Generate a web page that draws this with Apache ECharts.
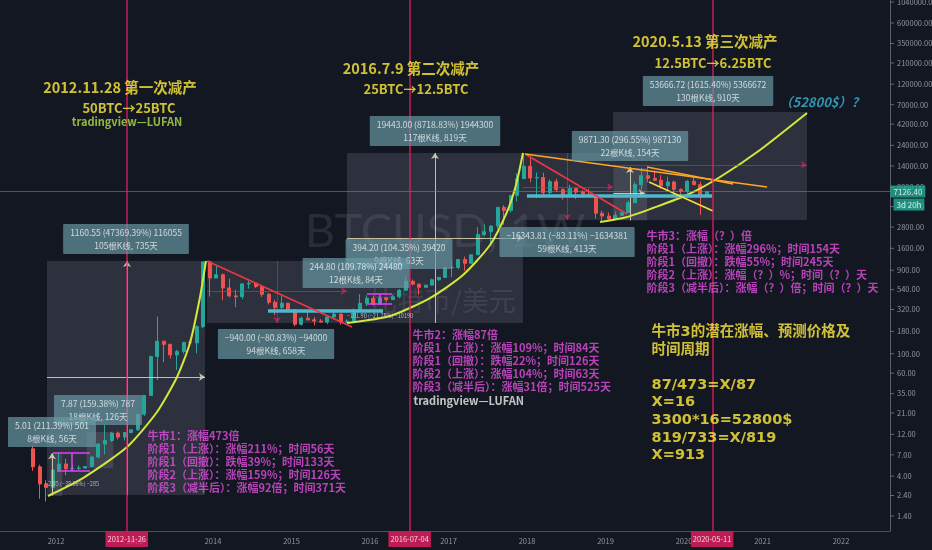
<!DOCTYPE html>
<html><head><meta charset="utf-8">
<script src="https://cdn.jsdelivr.net/npm/echarts@6/dist/echarts.min.js"></script>
<style>html,body{margin:0;padding:0;background:#131722;}#c{width:932px;height:550px;}</style>
</head><body><div id="c"></div>
<script>
// ---------- DATA ----------
// monthly candles: month, open, high, low, close
const candles = [
['2011-09',8.2,8.9,4.6,5.1],['2011-10',5.1,5.4,2.2,3.25],['2011-11',3.25,3.6,2.05,2.97],['2011-12',2.97,4.8,2.8,4.7],
['2012-01',4.7,7.38,4.5,5.5],['2012-02',5.5,6.3,4.1,4.86],['2012-03',4.86,5.4,4.6,4.9],['2012-04',4.9,5.3,4.7,4.95],
['2012-05',4.95,5.2,4.85,5.15],['2012-06',5.15,6.8,5.1,6.6],['2012-07',6.6,9.5,6.4,9.3],['2012-08',9.3,15.4,7.1,10.2],
['2012-09',10.2,12.8,9.8,12.4],['2012-10',12.4,12.9,10.5,11.2],['2012-11',11.2,12.8,10.2,12.6],['2012-12',12.6,13.7,12.3,13.5],
['2013-01',13.5,20.6,13.2,20.4],['2013-02',20.4,33.6,19.5,33.4],['2013-03',33.4,95,33,93],['2013-04',93,266,50,139],
['2013-05',139,140,80,128],['2013-06',128,130,88,97],['2013-07',97,111,65,106],['2013-08',106,135,100,135],
['2013-09',135,142,120,133],['2013-10',133,212,101,204],['2013-11',204,1130,196,1120],['2013-12',1120,1163,450,732],
['2014-01',732,1000,730,800],['2014-02',800,825,410,565],['2014-03',565,720,440,458],['2014-04',458,540,340,448],
['2014-05',448,633,420,628],['2014-06',628,680,555,640],['2014-07',640,645,565,587],['2014-08',587,600,445,478],
['2014-09',478,495,365,387],['2014-10',387,415,275,338],['2014-11',338,455,320,378],['2014-12',378,383,300,318],
['2015-01',318,320,205,217],['2015-02',217,265,210,254],['2015-03',254,300,240,244],['2015-04',244,262,211,236],
['2015-05',236,249,228,230],['2015-06',230,268,218,263],['2015-07',263,318,253,284],['2015-08',284,286,215,230],
['2015-09',230,246,225,236],['2015-10',236,330,236,314],['2015-11',314,480,310,377],['2015-12',377,466,350,430],
['2016-01',430,462,355,368],['2016-02',368,443,366,436],['2016-03',436,440,392,416],['2016-04',416,468,412,448],
['2016-05',448,550,435,531],['2016-06',531,765,525,673],['2016-07',673,704,605,624],['2016-08',624,630,470,574],
['2016-09',574,612,570,608],['2016-10',608,720,604,701],['2016-11',701,755,680,745],['2016-12',745,975,740,963],
['2017-01',963,1150,750,965],['2017-02',965,1200,920,1190],['2017-03',1190,1290,890,1080],['2017-04',1080,1350,1070,1350],
['2017-05',1350,2790,1350,2300],['2017-06',2300,3000,2200,2480],['2017-07',2480,2920,1830,2875],['2017-08',2875,4760,2670,4700],
['2017-09',4700,4980,2970,4340],['2017-10',4340,6470,4110,6440],['2017-11',6440,11500,5500,10000],['2017-12',10000,19666,10700,13860],
['2018-01',13860,17200,9100,10200],['2018-02',10200,11800,6000,10300],['2018-03',10300,11700,6600,6930],['2018-04',6930,9750,6430,9240],
['2018-05',9240,9990,7040,7500],['2018-06',7500,7780,5780,6390],['2018-07',6390,8500,6070,7730],['2018-08',7730,7760,5880,7020],
['2018-09',7020,7400,6100,6630],['2018-10',6630,7680,6200,6300],['2018-11',6300,6600,3500,4020],['2018-12',4020,4320,3220,3740],
['2019-01',3740,4100,3400,3460],['2019-02',3460,4200,3400,3820],['2019-03',3820,4130,3750,4100],['2019-04',4100,5640,4080,5320],
['2019-05',5320,9100,5320,8560],['2019-06',8560,13300,7500,10820],['2019-07',10820,13200,9100,10080],['2019-08',10080,12350,9370,9590],
['2019-09',9590,10950,7710,8290],['2019-10',8290,10500,7300,9150],['2019-11',9150,9500,6520,7540],['2019-12',7540,7750,6430,7190],
['2020-01',7190,9580,6860,9350],['2020-02',9350,10500,8450,8540],['2020-03',8540,9190,3860,6410],['2020-04',6410,7200,6150,7126.4]
];
const yTicks = [1.4,2.4,4,7,12,21,35,60,100,180,320,540,900,1600,2800,4800,8000,14000,24000,42000,70000,120000,210000,350000,600000,1040000];
const yearTicks = [2012,2013,2014,2015,2016,2017,2018,2019,2020,2021,2022];
const halvingDates = ['2012-11-26','2016-07-04','2020-05-11'];
const lastPrice = 7126.4;
const lastPriceText = '7126.40';
const countdown = '3d 20h';

// measured ranges: [year1, price1, year2, price2]
const boxes = [
  [2011.886,2.43,2013.898,1150],[2013.924,224,2015.707,1150],[2015.707,224,2017.949,19640],
  [2017.949,3370,2019.096,19640],[2019.096,3370,2021.567,57800],
  [2012.39,4.93,2012.73,12.8],[2011.93,2.37,2012.08,7.38],[2019.10,3330,2019.53,13200]
];
// growth curves [year, price]
const curve1 = [[2011.898,2.37],[2012.344,3.80],[2012.905,8.6],[2013.287,21.6],[2013.542,54.2],[2013.707,132.6],[2013.835,445],[2013.911,1147]];
const curve2 = [[2015.707,224],[2016.255,270],[2016.765,433],[2017.185,793],[2017.529,1746],[2017.745,4161],[2017.860,8466],[2017.949,19640]];
const curve3 = [[2018.930,3199],[2019.274,3649],[2019.605,4624],[2020.038,6507],[2020.459,10450],[2020.968,21270],[2021.567,56250]];
// straight drawings [[year, price],[year, price]]
const redTrend = [[[2013.924,1147],[2015.771,202]],[[2017.975,19140],[2019.274,3948]]];
const orangeTrend = [[[2017.975,19140],[2021.058,8030]],[[2019.529,13590],[2020.625,8690]]];
const yellowTrend = [[[2019.555,9160],[2020.370,4272]]];
const supportLevels = [[[2014.701,308],[2016.166,308]],[[2017.999,6340],[2020.357,6340]]];
const pinkGuides = [
  [[2013.924,521],[2015.707,521]],[[2014.816,1147],[2014.816,224]],
  [[2017.949,8030],[2019.096,8030]],[[2018.51,19640],[2018.51,3370]],
  [[2019.096,14300],[2021.567,14300]]
];
const creamGuides = [
  [[2011.886,54.2],[2013.898,54.2]],[[2012.905,2.43],[2012.905,1147]],
  [[2015.707,2100],[2017.949,2100]],[[2016.828,224],[2016.828,19640]],
  [[2019.312,3330],[2019.312,13590]],[[2019.10,6857],[2019.50,6857]],
  [[2011.95,2.4],[2011.95,7.3]]
];
const magentaGuides = [
  [[2011.962,7.34],[2012.433,7.34]],[[2012.013,4.58],[2012.433,4.58]],[[2012.204,4.58],[2012.204,7.34]],
  [[2015.962,481],[2016.281,481]],[[2015.962,370],[2016.281,370]],[[2016.127,370],[2016.127,481]]
];
// measurement labels [year, price, text]
const measureLabels = [
  [2012.892,2045,'1160.55 (47369.39%) 116055\n105根K线, 735天'],
  [2012.535,22.8,'7.87 (159.38%) 787\n18根K线, 126天'],
  [2011.949,12.8,'5.01 (211.39%) 501\n8根K线, 56天'],
  [2014.803,129,'−940.00 (−80.83%) −94000\n94根K线, 658天'],
  [2016.370,1378,'394.20 (104.35%) 39420\n9根K线, 63天'],
  [2015.822,836,'244.80 (109.78%) 24480\n12根K线, 84天'],
  [2016.828,35040,'19443.00 (8718.83%) 1944300\n117根K线, 819天'],
  [2018.510,1890,'−16343.81 (−83.11%) −1634381\n59根K线, 413天'],
  [2019.312,23620,'9871.30 (296.55%) 987130\n22根K线, 154天'],
  [2020.306,100400,'53666.72 (1615.40%) 5366672\n130根K线, 910天']
];
const tinyLabels = [[2012.204,3.25,'−2.85 (−38.56%) −285'],[2016.127,270,'−101.90 (−21.78%) −10190']];
const headTexts = [[2012.816,111500,'2012.11.28 第一次减产'],[2016.522,183800,'2016.7.9 第二次减产'],[2020.268,364300,'2020.5.13 第三次减产']];
const subTexts = [[2012.930,64190,'50BTC→25BTC'],[2016.586,105800,'25BTC→12.5BTC'],[2020.370,209700,'12.5BTC→6.25BTC']];
const signGreen = [[2012.905,44400,'tradingview—LUFAN']];
const signWhite = [[2016.561,28.8,'tradingview—LUFAN']];
const targetText = [[2021.758,75150,'（52800$）？']];
const bull1Text = ['牛市1：涨幅473倍','阶段1（上涨）：涨幅211%；时间56天','阶段1（回撤）：跌幅39%；时间133天','阶段2（上涨）：涨幅159%；时间126天','阶段3（减半后）：涨幅92倍；时间371天'];
const bull2Text = ['牛市2：涨幅87倍','阶段1（上涨）：涨幅109%；时间84天','阶段1（回撤）：跌幅22%；时间126天','阶段2（上涨）：涨幅104%；时间63天','阶段3（减半后）：涨幅31倍；时间525天'];
const bull3Text = ['牛市3：涨幅（？）倍','阶段1（上涨）：涨幅296%；时间154天','阶段1（回撤）：跌幅55%；时间245天','阶段2（上涨）：涨幅（？）%；时间（？）天','阶段3（减半后）：涨幅（？）倍；时间（？）天'];
const forecastText = ['牛市3的潜在涨幅、预测价格及','时间周期','','87/473=X/87','X=16','3300*16=52800$','819/733=X/819','X=913'];
const pinkAnchors = [[2013.172,13.45,bull1Text],[2016.548,191.7,bull2Text],[2019.529,2591,bull3Text]];
const forecastAnchor = [2019.593,218.7];
const watermark = [[2016.956,2460,'BTCUSD, 1W']];
const watermark2 = [[2016.930,400,'比特币/美元']];

// ---------- CHART ----------
const X_MIN = 2011.287, X_MAX = 2022.624, Y_MIN = 0.944, Y_MAX = 1.099e6;
const CJK = '"Noto Sans CJK SC", sans-serif';
const WIDE = '"DejaVu Sans", "Noto Sans CJK SC", sans-serif';

function yr(s){const d=Date.parse(s+'T00:00:00Z');const y=+s.slice(0,4);return y+(d-Date.UTC(y,0,1))/(Date.UTC(y+1,0,1)-Date.UTC(y,0,1));}
const candleData = candles.map(([m,o,h,l,c])=>{const [y,mo]=m.split('-').map(Number);return [y+(mo-0.5)/12,o,c,l,h];});

function textSeries(items,label,z){
  return {type:'scatter',silent:true,clip:false,symbol:'circle',symbolSize:1,z:z,
    itemStyle:{color:'rgba(0,0,0,0)'},emphasis:{disabled:true},
    label:Object.assign({show:true,formatter:'{b}'},label),
    data:items.map(([x,y,t])=>({name:t,value:[x,y]}))};
}
function lineGroup(segs,style,arrow,z){
  return {type:'line',data:[],z:z,silent:true,
    markLine:{silent:true,animation:false,symbol:arrow?['none','arrow']:['none','none'],symbolSize:6,
      label:{show:false},emphasis:{disabled:true},lineStyle:style,
      data:segs.map(([a,b])=>[{coord:a},{coord:b}])}};
}
function curveSeries(pts){
  return {type:'line',data:pts,smooth:0.22,symbol:'none',silent:true,z:4,
    lineStyle:{color:'#d4e83c',width:2}};
}

const series = [
  textSeries(watermark,{position:'inside',fontSize:47,fontFamily:'Lato, sans-serif',color:'rgba(140,144,158,0.22)'},0),
  textSeries(watermark2,{position:'inside',fontSize:27,fontFamily:CJK,color:'rgba(140,144,158,0.22)'},0),
  {type:'line',data:[],z:1,silent:true,
    markArea:{silent:true,itemStyle:{color:'rgba(150,156,170,0.2)'},
      data:boxes.map(([x1,p1,x2,p2])=>[{coord:[x1,p1]},{coord:[x2,p2]}])}},
  {type:'candlestick',data:candleData,barWidth:3.5,z:2,silent:true,
    itemStyle:{color:'#26a69a',color0:'#ef5350',borderColor:'#26a69a',borderColor0:'#ef5350',borderWidth:1}},
  lineGroup(pinkGuides,{color:'rgba(233,30,99,0.65)',width:1,type:'solid'},true,3),
  lineGroup(creamGuides,{color:'rgba(225,215,180,0.85)',width:1,type:'solid'},true,3),
  lineGroup(magentaGuides,{color:'#e040fb',width:1.5,type:'solid'},false,3),
  lineGroup(supportLevels,{color:'#4fb8cc',width:3.5,type:'solid'},false,3),
  lineGroup(redTrend,{color:'#f23645',width:1.5,type:'solid'},false,4),
  lineGroup(orangeTrend,{color:'#ffa726',width:1.5,type:'solid'},false,4),
  lineGroup(yellowTrend,{color:'#f7e03c',width:1.5,type:'solid'},false,4),
  curveSeries(curve1),curveSeries(curve2),curveSeries(curve3),
  {type:'line',data:[],z:4,silent:true,
    markLine:{silent:true,animation:false,symbol:['none','none'],label:{show:false},
      lineStyle:{color:'rgba(38,166,154,0.6)',width:1,type:'solid'},data:[{yAxis:lastPrice}]}},
  {type:'line',data:[],z:5,silent:true,
    markLine:{silent:true,animation:false,symbol:['none','none'],label:{show:false},
      lineStyle:{color:'rgba(233,30,99,0.8)',width:1.6,type:'solid'},data:halvingDates.map(s=>({xAxis:yr(s)}))}},
  textSeries(measureLabels,{position:'inside',fontSize:8.5,lineHeight:13,fontFamily:CJK,color:'#eef3f5',
    backgroundColor:'rgba(106,154,165,0.85)',padding:[2,7],borderRadius:1},6),
  textSeries(tinyLabels,{position:'inside',fontSize:5.5,fontFamily:CJK,color:'#cfd8dc'},6),
  textSeries(headTexts,{position:'inside',fontSize:14.5,fontWeight:'bold',fontFamily:CJK,color:'#ffeb3b'},6),
  textSeries(subTexts,{position:'inside',fontSize:13,fontWeight:'bold',fontFamily:CJK,color:'#ffeb3b'},6),
  textSeries(signGreen,{position:'inside',fontSize:11,fontWeight:'bold',fontFamily:CJK,color:'#b2e04a'},6),
  textSeries(signWhite,{position:[0,0],verticalAlign:'middle',fontSize:11,fontWeight:'bold',fontFamily:CJK,color:'#f0f0f0'},6),
  textSeries(targetText,{position:'inside',fontSize:13,fontWeight:'bold',fontStyle:'italic',fontFamily:CJK,color:'#3bb6dc'},6),
  textSeries(pinkAnchors.map(([x,y,t])=>[x,y,t.join('\n')]),{position:[0,0],align:'left',verticalAlign:'top',
    fontSize:11,lineHeight:13,fontWeight:'bold',fontFamily:CJK,color:'#e24fe0'},6),
  textSeries([[forecastAnchor[0],forecastAnchor[1],forecastText.join('\n')]],{position:[0,0],align:'left',verticalAlign:'top',
    fontSize:14.5,lineHeight:17.6,fontWeight:'bold',fontFamily:WIDE,color:'#ffeb3b'},6),
  // axis labels
  Object.assign(textSeries(yTicks.map(v=>[X_MAX,v,v.toFixed(2)]),{position:'right',distance:3,fontSize:7.5,fontFamily:CJK,color:'#b2b5be'},6),
    {symbol:'rect',symbolSize:[4,1],symbolOffset:[2,0],itemStyle:{color:'#787b86'}}),
  textSeries(yearTicks.map(y=>[y,Y_MIN,String(y)]),{position:'bottom',distance:6,fontSize:7.5,fontFamily:CJK,color:'#b2b5be'},6),
  textSeries(halvingDates.map(s=>[yr(s),Y_MIN,s]),{position:'bottom',distance:0,fontSize:7.5,fontFamily:CJK,color:'#ffffff',
    backgroundColor:'#e91e63',padding:[4,2,4,2]},7),
  textSeries([[X_MAX,lastPrice,lastPriceText]],{position:'right',distance:0,fontSize:8,fontFamily:CJK,color:'#ffffff',
    backgroundColor:'#22ab94',padding:[2,3]},7),
  textSeries([[X_MAX,lastPrice,countdown]],{position:'right',distance:3,offset:[0,13],fontSize:8,fontFamily:CJK,color:'#ffffff',
    backgroundColor:'#22ab94',padding:[2,3]},7)
];

const chart = echarts.init(document.getElementById('c'));
chart.setOption({
  backgroundColor:'#131722',
  animation:false,
  grid:{left:0,right:42,top:0,bottom:19,containLabel:false},
  xAxis:{type:'value',min:X_MIN,max:X_MAX,axisLine:{show:true,onZero:false,lineStyle:{color:'#4a4e59'}},
    axisTick:{show:false},axisLabel:{show:false},splitLine:{show:false}},
  yAxis:{type:'log',logBase:10,position:'right',min:Y_MIN,max:Y_MAX,
    axisLine:{show:true,onZero:false,lineStyle:{color:'#5d606b'}},axisTick:{show:false},axisLabel:{show:false},splitLine:{show:false}},
  series:series
});
</script>
</body></html>
